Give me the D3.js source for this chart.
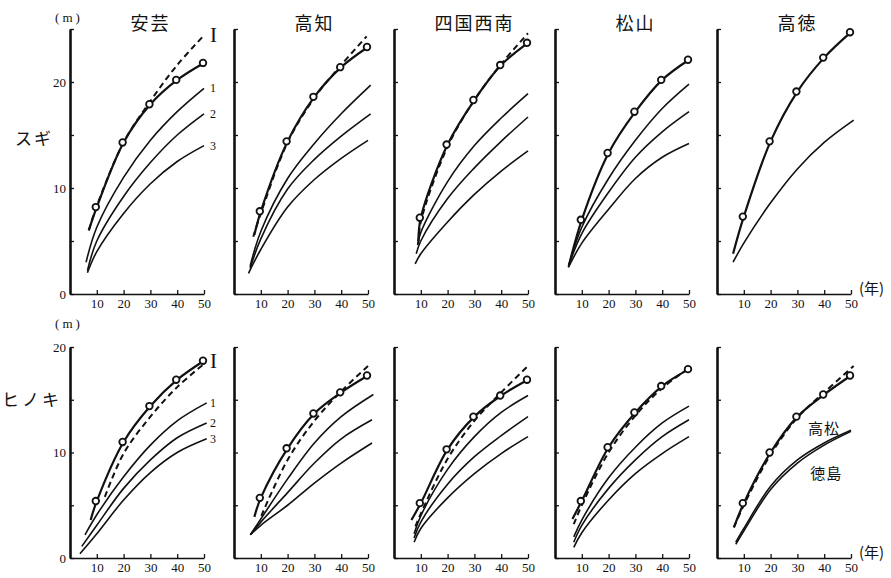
<!DOCTYPE html>
<html>
<head>
<meta charset="utf-8">
<script src="https://cdnjs.cloudflare.com/ajax/libs/d3/7.8.5/d3.min.js"></script>
<style>
  body { margin: 0; background: #fff; }
  svg { display: block; background: #fff; }
  .tick text { font-family: "Liberation Serif", serif; font-size: 13px; fill: #111; }
</style>
</head>
<body>
<svg id="chart" width="891" height="578"></svg>
<script>

// regions (columns) and species (rows)
var regions = ["安芸", "高知", "四国西南", "松山", "高徳"];
var species = ["スギ", "ヒノキ"];
var yearTicks = [10, 20, 30, 40, 50];
var sugiHeightTicks = [0, 5, 10, 15, 20, 25];
var hinokiHeightTicks = [0, 5, 10, 15, 20];
var heightLabels = [0, 10, 20];
var curveNames = ["I", "1", "2", "3"];

// スギ : [year, height m] per region, null = no curve
var sugiObs = [
  [[7,6.0],[10,8.2],[20,14.3],[30,17.9],[40,20.2],[50,21.8]],
  [[7.6,5.6],[10,7.8],[20,14.4],[30,18.6],[40,21.4],[50,23.3]],
  [[9.1,5.0],[10,7.2],[20,14.1],[30,18.3],[40,21.6],[50,23.7]],
  [[5.3,2.8],[10,7.0],[20,13.3],[30,17.2],[40,20.2],[50,22.1]],
  [[6,3.8],[10,7.3],[20,14.4],[30,19.1],[40,22.3],[50,24.7]]
];
var sugiDash = [
  [[7,6.0],[10,8.3],[20,14.3],[30,18.2],[40,21.6],[50,24.4]],
  [[7.2,5.4],[10,7.6],[20,14.3],[30,18.5],[40,21.6],[49.5,24.3]],
  [[9.1,4.7],[10,6.8],[20,13.9],[30,18.3],[40,21.7],[50,24.6]],
  null,
  null
];
var sugi1 = [
  [[6,3.0],[10,6.3],[20,11.0],[30,14.5],[40,17.2],[50,19.4]],
  [[6,2.6],[10,5.9],[20,10.9],[30,14.2],[40,17.0],[51,19.7]],
  [[8.8,4.6],[10,5.8],[20,10.6],[30,14.0],[40,16.6],[50,18.9]],
  [[5,2.6],[10,6.3],[20,10.9],[30,14.5],[40,17.5],[50,19.8]],
  [[6,3.0],[10,4.8],[20,8.6],[30,11.8],[40,14.3],[51,16.4]]
];
var sugi2 = [
  [[6.5,2.2],[10,5.0],[20,9.2],[30,12.4],[40,15.0],[50,17.0]],
  [[6,2.4],[10,5.2],[20,9.9],[30,12.7],[40,14.9],[51,17.0]],
  [[8.3,3.8],[10,5.0],[20,9.0],[30,11.9],[40,14.4],[50,16.7]],
  [[5,2.6],[10,5.7],[20,9.6],[30,12.9],[40,15.3],[50,17.2]],
  null
];
var sugi3 = [
  [[6.5,2.0],[10,4.0],[20,7.6],[30,10.4],[40,12.5],[50,14.0]],
  [[5.4,1.95],[10,4.2],[20,8.2],[30,10.8],[40,12.8],[50,14.5]],
  [[7.9,2.85],[10,3.8],[20,6.8],[30,9.4],[40,11.6],[50,13.5]],
  [[5,2.5],[10,4.8],[20,8.0],[30,10.9],[40,12.9],[50,14.2]],
  null
];

// ヒノキ
var hinokiObs = [
  [[7.7,3.6],[10,5.4],[20,11.0],[30,14.4],[40,16.9],[50,18.7]],
  [[7.6,3.9],[10,5.7],[20,10.4],[30,13.7],[40,15.7],[50,17.3]],
  [[6.5,3.6],[10,5.2],[20,10.3],[30,13.4],[40,15.4],[50,16.9]],
  [[6.5,3.7],[10,5.4],[20,10.5],[30,13.8],[40,16.3],[50,17.9]],
  [[6.3,2.9],[10,5.2],[20,10.0],[30,13.4],[40,15.5],[50,17.3]]
];
var hinokiDash = [
  [[13,5.8],[20,9.9],[30,13.4],[40,16.2],[50,18.4]],
  [[10.2,4.0],[20,9.3],[30,13.0],[40,15.8],[50,18.2]],
  [[8,3.0],[10,4.2],[20,9.4],[30,13.0],[40,15.7],[50,18.2]],
  [[7,3.2],[10,5.0],[20,10.0],[30,13.5],[40,16.1],[50,18.0]],
  [[6.3,2.9],[10,5.0],[20,9.8],[30,13.3],[40,15.7],[51,18.2]]
];
var hinoki1 = [
  [[5.6,2.2],[10,4.1],[20,7.7],[30,10.7],[40,13.0],[51,14.7]],
  [[6.1,2.2],[10,3.7],[20,7.5],[30,10.9],[40,13.4],[52,15.5]],
  [[7.5,2.3],[10,4.0],[20,8.4],[30,11.5],[40,13.8],[50,15.4]],
  [[7,2.0],[10,3.6],[20,7.6],[30,10.5],[40,12.8],[50,14.4]],
  [[7,1.5],[10,2.8],[20,6.8],[30,9.3],[40,10.9],[50,12.1]]
];
var hinoki2 = [
  [[4.4,1.1],[10,3.1],[20,6.6],[30,9.3],[40,11.4],[51,12.8]],
  [[6.1,2.2],[10,3.4],[20,6.2],[30,9.0],[40,11.3],[51.5,13.1]],
  [[7.5,1.9],[10,3.4],[20,7.0],[30,9.6],[40,11.6],[50,13.4]],
  [[7,1.5],[10,3.1],[20,6.6],[30,9.3],[40,11.5],[50,13.1]],
  [[7,1.3],[10,2.55],[20,6.5],[30,9.0],[40,10.7],[50,12.0]]
];
var hinoki3 = [
  [[3.7,0.4],[10,2.3],[20,5.5],[30,8.1],[40,10.0],[51,11.3]],
  [[6.1,2.2],[10,3.1],[20,5.0],[30,7.1],[40,9.0],[51.5,10.9]],
  [[7.5,1.5],[10,2.8],[20,5.7],[30,8.0],[40,9.9],[50,11.5]],
  [[7,1.0],[10,2.4],[20,5.5],[30,8.0],[40,9.9],[50,11.5]],
  null
];

// layout
var panelLeft = [70, 234, 394, 555, 717];
var panelWidth = 134;
var rowLayout = [
  { top: 29, bottom: 294, max: 25, ticks: sugiHeightTicks, labelY: 137, unitY: 17 },
  { top: 347, bottom: 558, max: 20, ticks: hinokiHeightTicks, labelY: 398, unitY: 323 }
];
var serif = '"Liberation Serif", serif';
var cjk = '"Noto Sans CJK JP", sans-serif';

var svg = d3.select("#chart");

function drawRow(r){
  var lay = rowLayout[r];
  var y = d3.scaleLinear().domain([0, lay.max]).range([lay.bottom, lay.top]);
  var series = r == 0 ? [sugiObs, sugiDash, sugi1, sugi2, sugi3]
                      : [hinokiObs, hinokiDash, hinoki1, hinoki2, hinoki3];

  // species label + unit
  svg.append("text")
      .text(species[r])
      .attr("x", r == 0 ? 34 : 32)
      .attr("y", lay.labelY)
      .attr("text-anchor", "middle")
      .attr("dominant-baseline", "central")
      .attr("font-family", cjk)
      .attr("font-size", 17)
      .attr("letter-spacing", r == 0 ? 2 : 3)
      .attr("fill", "#111");
  svg.append("text")
      .text("(m)")
      .attr("x", 69)
      .attr("y", lay.unitY)
      .attr("text-anchor", "middle")
      .attr("dominant-baseline", "central")
      .attr("font-family", serif)
      .attr("font-size", 13)
      .attr("letter-spacing", 3)
      .attr("fill", "#111");

  regions.forEach(function(name, c){
    var x = d3.scaleLinear().domain([0, 50]).range([panelLeft[c], panelLeft[c] + panelWidth]);
    var g = svg.append("g").attr("class", "panel");

    if(r == 0){
      g.append("text")
          .text(name)
          .attr("x", x(30))
          .attr("y", 22)
          .attr("text-anchor", "middle")
          .attr("dominant-baseline", "central")
          .attr("font-family", cjk)
          .attr("font-size", 18)
          .attr("letter-spacing", 2)
          .attr("fill", "#111");
    }

    // x axis: ticks pointing up, labels below
    var xa = g.append("g")
        .attr("transform", `translate(0,${y(0)})`)
        .call(d3.axisBottom(x).tickValues(yearTicks).tickSizeInner(-4).tickSizeOuter(0).tickPadding(5));
    xa.select(".domain").attr("stroke", "#111").attr("stroke-width", 1.6);
    xa.selectAll(".tick line").attr("stroke", "#111").attr("stroke-width", 1.3);

    // y axis: thick line, ticks inside
    var ya = g.append("g")
        .attr("transform", `translate(${x(0)},0)`)
        .call(d3.axisRight(y).tickValues(lay.ticks).tickSize(4).tickSizeOuter(0).tickFormat(""));
    ya.select(".domain").attr("stroke", "#111").attr("stroke-width", 2.6);
    ya.selectAll(".tick line").attr("stroke", "#111").attr("stroke-width", 1.3);

    if(c == 0){
      var yl = g.append("g")
          .attr("transform", `translate(${x(0) - 1},0)`)
          .call(d3.axisLeft(y).tickValues(heightLabels).tickSize(0).tickPadding(3));
      yl.select(".domain").remove();
    }

    var line = d3.line()
        .x(d => x(d[0]))
        .y(d => y(d[1]))
        .curve(d3.curveCatmullRom.alpha(0.5));

    // curves 1,2,3
    [2, 3, 4].forEach(function(k){
      var d = series[k][c];
      if(!d) return;
      g.append("path")
          .attr("d", line(d))
          .attr("fill", "none")
          .attr("stroke", "#111")
          .attr("stroke-width", 1.6);
    });

    // dashed curve I
    if(series[1][c]){
      g.append("path")
          .attr("d", line(series[1][c]))
          .attr("fill", "none")
          .attr("stroke", "#111")
          .attr("stroke-width", 2)
          .attr("stroke-dasharray", "6,4");
    }

    // observed curve with circles
    var obs = series[0][c];
    g.append("path")
        .attr("d", line(obs))
        .attr("fill", "none")
        .attr("stroke", "#111")
        .attr("stroke-width", 2.2);
    g.selectAll("circle.obs")
        .data(obs.filter(d => yearTicks.indexOf(d[0]) >= 0))
        .enter()
        .append("circle")
        .attr("class", "obs")
        .attr("cx", d => x(d[0]) - 1)
        .attr("cy", d => y(d[1]))
        .attr("r", 3.3)
        .attr("fill", "#fff")
        .attr("stroke", "#111")
        .attr("stroke-width", 1.8);

    // curve names on the first panel
    if(c == 0){
      var ends = [series[1][c], series[2][c], series[3][c], series[4][c]];
      ends.forEach(function(d, i){
        var last = d[d.length - 1];
        g.append("text")
            .text(curveNames[i])
            .attr("x", x(50) + 6)
            .attr("y", y(i == 0 ? Math.max(last[1], obs[obs.length-1][1]) : last[1]))
            .attr("dominant-baseline", "central")
            .attr("font-family", serif)
            .attr("font-size", i == 0 ? 21 : 12)
            .attr("fill", "#111");
      });
    }

    // year unit on the last panel
    if(c == regions.length - 1){
      g.append("text")
          .text("(年)")
          .attr("x", x(50) + 8)
          .attr("y", y(0) - 7)
          .attr("dominant-baseline", "central")
          .attr("font-family", cjk)
          .attr("font-size", 15)
          .attr("fill", "#111");
      if(r == 1){
        g.append("text").text("高松")
            .attr("x", x(34)).attr("y", y(12.4))
            .attr("dominant-baseline", "central")
            .attr("font-family", cjk).attr("font-size", 15)
            .attr("letter-spacing", 1).attr("fill", "#111");
        g.append("text").text("徳島")
            .attr("x", x(34.8)).attr("y", y(8.1))
            .attr("dominant-baseline", "central")
            .attr("font-family", cjk).attr("font-size", 15)
            .attr("letter-spacing", 1).attr("fill", "#111");
      }
    }
  });
}

drawRow(0);
drawRow(1);

</script>
</body>
</html>
